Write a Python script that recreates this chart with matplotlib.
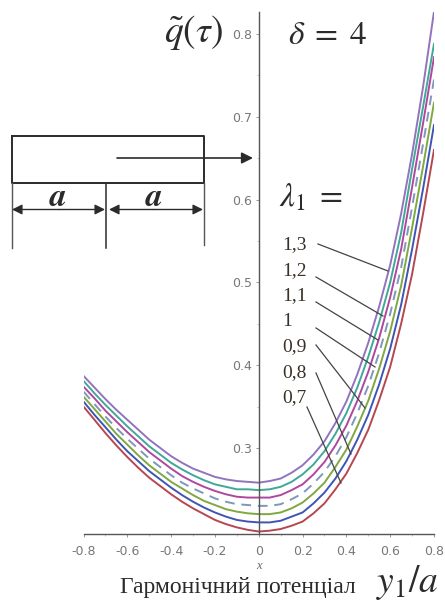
import matplotlib
matplotlib.use("Agg")
import matplotlib.pyplot as plt
from matplotlib.ticker import MultipleLocator, FixedLocator

x_vals = [-0.8, -0.75, -0.7, -0.65, -0.6, -0.55, -0.5, -0.45, -0.4, -0.35, -0.3, -0.25, -0.2, -0.15, -0.1, -0.05, 0.0,
          0.05, 0.1, 0.15, 0.2, 0.25, 0.3, 0.35, 0.4, 0.45, 0.5, 0.55, 0.6, 0.65, 0.7, 0.75, 0.8]

lam_07 = [.350, .334, .318, .303, .289, .276, .264, .254, .244, .235, .227, .220, .213, .208, .204, .201, .199,
          .200, .202, .206, .211, .221, .233, .250, .269, .294, .322, .358, .398, .450, .510, .583, .660]
lam_08 = [.356, .340, .325, .310, .296, .284, .272, .262, .252, .243, .235, .228, .222, .217, .213, .211, .210,
          .210, .212, .217, .222, .233, .246, .263, .284, .310, .340, .377, .420, .473, .540, .613, .690]
lam_09 = [.362, .347, .332, .317, .304, .291, .279, .269, .259, .251, .243, .236, .231, .226, .223, .221, .220,
          .220, .222, .227, .234, .245, .258, .277, .298, .326, .357, .396, .441, .496, .566, .640, .717]
lam_10 = [.368, .353, .338, .324, .311, .299, .287, .277, .267, .258, .251, .245, .239, .235, .232, .231, .230,
          .230, .232, .238, .245, .257, .271, .290, .313, .342, .375, .415, .462, .518, .591, .667, .745]
lam_11 = [.374, .360, .345, .332, .319, .307, .295, .285, .275, .266, .259, .253, .248, .244, .241, .240, .240,
          .240, .243, .249, .256, .268, .283, .303, .327, .357, .392, .433, .482, .540, .615, .692, .772]
lam_12 = [.381, .366, .352, .339, .326, .314, .302, .292, .282, .274, .267, .261, .256, .253, .250, .250, .249,
          .250, .253, .259, .268, .280, .296, .317, .342, .373, .410, .452, .500, .560, .637, .712, .788]
lam_13 = [.387, .373, .359, .346, .334, .322, .310, .300, .290, .282, .275, .270, .265, .262, .260, .259, .258,
          .260, .263, .270, .279, .292, .308, .330, .356, .389, .427, .471, .521, .583, .655, .736, .827]

lam_labels = ["1,3", "1,2", "1,1", "1", "0,9", "0,8", "0,7"]

W, H = 445, 602
plt.rcParams["mathtext.fontset"] = "stix"
fig = plt.figure(figsize=(W / 100, H / 100), dpi=100)

# chart axes, placed so the data maps onto the reference pixels
ax = fig.add_axes([83.5 / W, 1 - 534 / H, (434 - 83.5) / W, (534 - 12) / H])
ax.set_xlim(-0.8, 0.8)
ax.set_ylim(0.196, 0.8266)
ax.patch.set_alpha(0)

ax.plot(x_vals, lam_07, color="#b5474f", lw=1.4)
ax.plot(x_vals, lam_08, color="#3f55b5", lw=1.4)
ax.plot(x_vals, lam_09, color="#80a840", lw=1.4)
ax.plot(x_vals, lam_10, color="#7f96bd", lw=1.4, dashes=(5, 3.5))
ax.plot(x_vals, lam_11, color="#b0479f", lw=1.4)
ax.plot(x_vals, lam_12, color="#3fa898", lw=1.4)
ax.plot(x_vals, lam_13, color="#9273bd", lw=1.4)

for side in ["top", "right"]:
    ax.spines[side].set_visible(False)
ax.spines["left"].set_position(("data", 0))
for side in ["left", "bottom"]:
    ax.spines[side].set_color("#555555")
    ax.spines[side].set_linewidth(1.0)

ax.set_xticks([-0.8, -0.6, -0.4, -0.2, 0, 0.2, 0.4, 0.6, 0.8])
ax.set_xticklabels(["-0.8", "-0.6", "-0.4", "-0.2", "0", "0.2", "0.4", "0.6", "0.8"])
ax.set_yticks([0.3, 0.4, 0.5, 0.6, 0.7, 0.8])
ax.set_yticklabels(["0.3", "0.4", "0.5", "0.6", "0.7", "0.8"])
ax.xaxis.set_minor_locator(MultipleLocator(0.1))
ax.yaxis.set_minor_locator(FixedLocator([0.35, 0.45, 0.55, 0.65, 0.75]))
ax.tick_params(axis="both", which="major", length=2, width=0.6, color="#888888",
               labelsize=9, labelcolor="#777777")
ax.tick_params(axis="x", which="major", pad=6)
ax.tick_params(axis="y", which="major", pad=3)
ax.tick_params(axis="both", which="minor", length=1.5, width=0.5, color="#aaaaaa")

# overlay in pixel coordinates for the sketch, leaders and labels
ov = fig.add_axes([0, 0, 1, 1])
ov.set_xlim(0, W)
ov.set_ylim(H, 0)
ov.axis("off")
ov.patch.set_alpha(0)

dark = "#2b2b2b"
ov.plot([12, 203.5, 203.5, 12, 12], [136, 136, 183, 183, 136], color=dark, lw=1.4)
ov.plot([12, 12], [183, 248], color="#555555", lw=1.0)
ov.plot([106, 106], [183, 248], color=dark, lw=1.1)
ov.plot([203.5, 203.5], [183, 245], color="#555555", lw=1.0)
for x0, x1 in [(59, 12), (59, 105), (154, 109), (154, 203)]:
    ov.annotate("", xy=(x1, 209.5), xytext=(x0, 209.5),
                arrowprops=dict(arrowstyle="-|>", shrinkA=0, shrinkB=0, color=dark, lw=1.0, mutation_scale=15))
ov.annotate("", xy=(253, 158), xytext=(117, 158),
            arrowprops=dict(arrowstyle="-|>", shrinkA=0, shrinkB=0, color=dark, lw=1.2, mutation_scale=17))
ov.text(58, 196, "$\\mathbfit{a}$", fontsize=24, ha="center", va="center", color=dark)
ov.text(154, 196, "$\\mathbfit{a}$", fontsize=24, ha="center", va="center", color=dark)

ov.text(194, 32, r"$\tilde{q}(\tau)$", fontsize=27, ha="center", va="center", color=dark)
ov.text(327, 34, r"$\delta\;=\;4$", fontsize=24, ha="center", va="center", color=dark)
ov.text(311, 197, r"$\lambda_1\;=$", fontsize=24, ha="center", va="center", color=dark)

label_y = [245, 271, 296, 322, 347, 373, 398]
leaders = [((318, 244), (388, 271)), ((316, 277), (383, 316)), ((316, 302), (378, 340)),
           ((316, 328), (375, 367)), ((316, 345), (365, 408)), ((316, 373), (351, 454)),
           ((307, 407), (341, 483))]
for label, ly, (p0, p1) in zip(lam_labels, label_y, leaders):
    ov.text(282, ly, label, fontsize=14, family="Liberation Serif", ha="left", va="center", color="#3a3026")
    ov.plot([p0[0], p1[0]], [p0[1], p1[1]], color="#444444", lw=0.9)

ov.text(258.5, 566, "x", fontsize=9, style="italic", family="Liberation Serif", ha="center", va="center", color="#666666")
ov.text(237.5, 587, "Гармонічний потенціал", fontsize=17, family="Liberation Serif", ha="center", va="center", color="#2b2b2b")
ov.text(407, 582, r"$y_1/a$", fontsize=27, ha="center", va="center", color=dark)

fig.savefig("out.png", dpi=100)
